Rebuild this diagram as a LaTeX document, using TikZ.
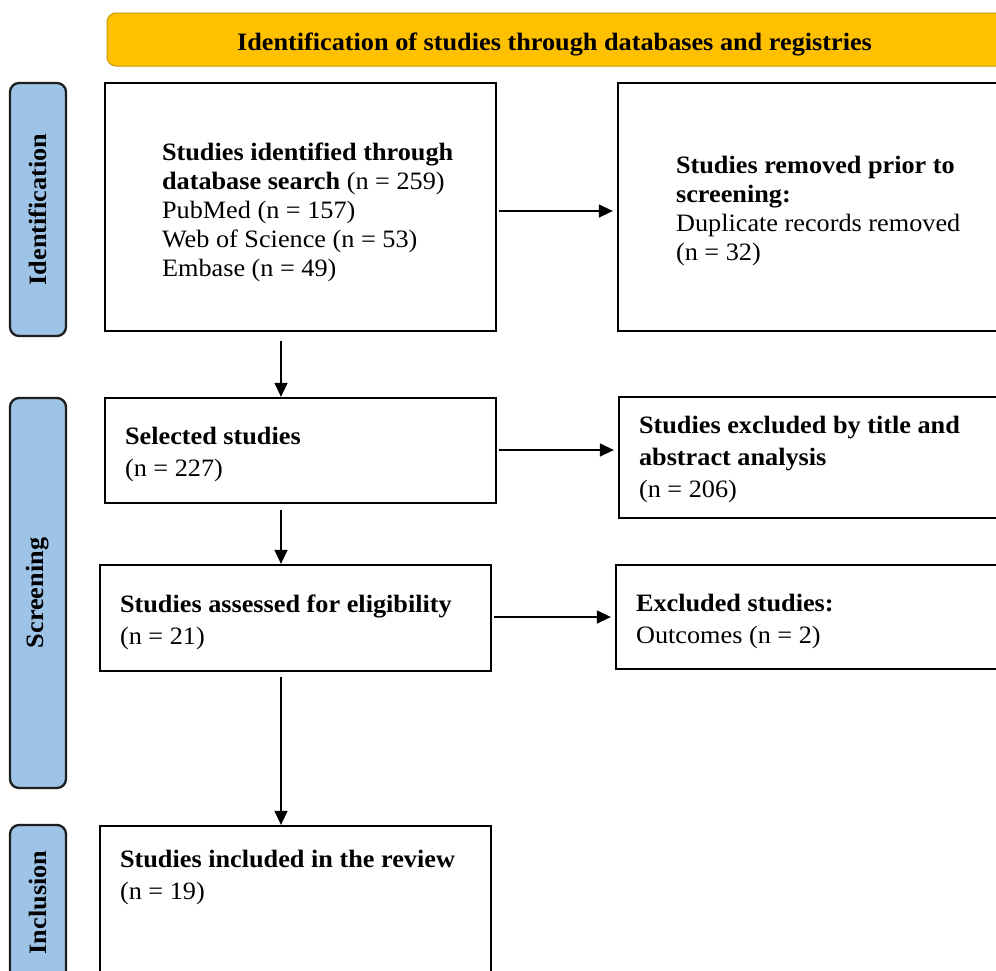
\documentclass[tikz,border=0pt]{standalone}
\usepackage{fontspec}
\setmainfont[FakeStretch=1.05]{Liberation Serif}
\usetikzlibrary{arrows.meta}
\definecolor{gold}{HTML}{FFC000}
\definecolor{goldline}{HTML}{C49A00}
\definecolor{phase}{HTML}{9DC3E6}
\definecolor{phaseline}{HTML}{1E1E1E}
\begin{document}
\begin{tikzpicture}[x=1pt,y=-1pt,
  stagebox/.style={draw=black, line width=2.3pt, rectangle, inner sep=0pt},
  phasebox/.style={draw=phaseline, fill=phase, line width=2.3pt, rounded corners=9pt, inner sep=0pt,
    rotate=90, minimum height=56pt, font=\fontsize{25}{29}\selectfont\bfseries},
  banner/.style={draw=goldline, fill=gold, line width=1pt, rounded corners=9pt, inner sep=0pt},
  bantxt/.style={inner sep=0pt, font=\fontsize{25}{29}\selectfont\bfseries},
  txt/.style={inner sep=0pt, align=left, anchor=west, font=\fontsize{25}{29}\selectfont},
  txtb/.style={inner sep=0pt, align=left, anchor=west, font=\fontsize{25}{32}\selectfont},
  arr/.style={-{Triangle[length=14pt,width=13pt]}, line width=1.4pt}
]
\useasboundingbox (0,0) rectangle (996,970);
\fill[white] (0,0) rectangle (996,970);

% banner
\node[banner, minimum width=903pt, minimum height=53pt] (ban) at (558.5,39.5) {};
\node[bantxt] (banT) at (554.5,44.5)
  {Identification of studies through databases and registries};

% phase labels
\node[phasebox, minimum width=253pt] (idlab) at (38,209.5) {Identification};
\node[phasebox, minimum width=390pt] (sclab) at (38,593) {Screening};
\node[phasebox, minimum width=155pt] (inlab) at (38,902.5) {Inclusion};

% boxes
\node[stagebox, minimum width=391pt, minimum height=248pt] (ident) at (300.5,207) {};
\node[stagebox, minimum width=392pt, minimum height=248pt] (removed) at (814,207) {};
\node[stagebox, minimum width=391pt, minimum height=105pt] (selected) at (300.5,450.5) {};
\node[stagebox, minimum width=391pt, minimum height=121pt] (extitle) at (814.5,457.5) {};
\node[stagebox, minimum width=391pt, minimum height=106pt] (assessed) at (295.5,618) {};
\node[stagebox, minimum width=394pt, minimum height=104pt] (exstud) at (813,617) {};
\node[stagebox, minimum width=391pt, minimum height=160pt] (included) at (295.5,906) {};

% texts
\node[txt] (identT) at ([xshift=58pt,yshift=-5pt]ident.west)
  {\textbf{Studies identified through}\\\textbf{database search} (n = 259)\\PubMed (n = 157)\\Web of Science (n = 53)\\Embase (n = 49)};
\node[txt] (removedT) at ([xshift=59pt,yshift=-4pt]removed.west)
  {\textbf{Studies removed prior to}\\\textbf{screening:}\\Duplicate records removed\\(n = 32)};
\node[txtb] (selectedT) at ([xshift=21pt,yshift=-4pt]selected.west)
  {\textbf{Selected studies}\\(n = 227)};
\node[txtb] (extitleT) at ([xshift=21pt,yshift=-2pt]extitle.west)
  {\textbf{Studies excluded by title and}\\\textbf{abstract analysis}\\(n = 206)};
\node[txtb] (assessedT) at ([xshift=21pt,yshift=-4pt]assessed.west)
  {\textbf{Studies assessed for eligibility}\\(n = 21)};
\node[txtb] (exstudT) at ([xshift=21pt,yshift=-4pt]exstud.west)
  {\textbf{Excluded studies:}\\Outcomes (n = 2)};
\node[txtb, anchor=north west] (includedT) at ([xshift=21pt,yshift=-25pt]included.north west)
  {\textbf{Studies included in the review}\\(n = 19)};

% connectors
\draw[arr, shorten <=2pt, shorten >=4pt] (ident.east |- 0,211) -- (removed.west |- 0,211);
\draw[arr, shorten <=2pt, shorten >=4pt] (selected.east |- 0,450) -- (extitle.west |- 0,450);
\draw[arr, shorten <=2pt, shorten >=4pt] (assessed.east |- 0,617) -- (exstud.west |- 0,617);
\draw[arr, shorten <=9pt] (ident.south -| 281,0) -- (selected.north -| 281,0);
\draw[arr, shorten <=6pt] (selected.south -| 281,0) -- (assessed.north -| 281,0);
\draw[arr, shorten <=5pt] (assessed.south -| 281,0) -- (included.north -| 281,0);
\end{tikzpicture}
\end{document}
